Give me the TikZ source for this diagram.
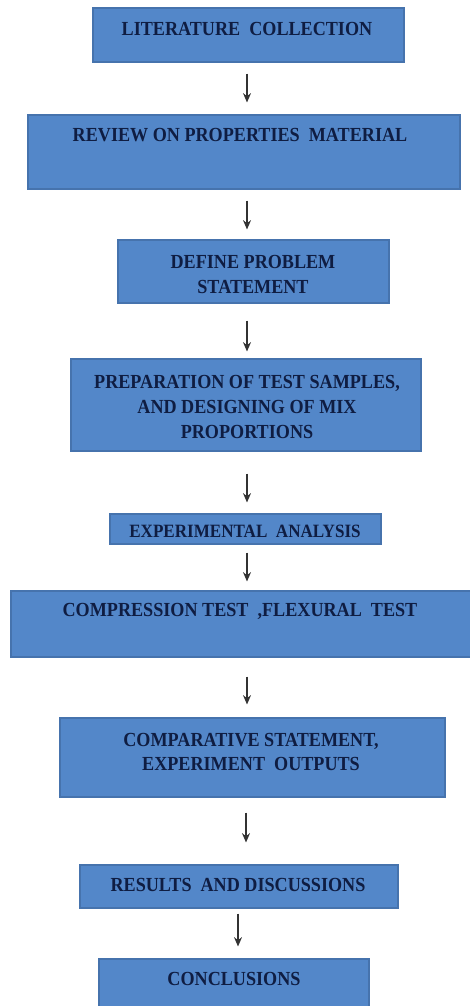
\documentclass[tikz,border=0pt]{standalone}
\usepackage{fontspec}
\setmainfont{Liberation Serif}
\usetikzlibrary{arrows.meta}
\definecolor{boxfill}{HTML}{5387C9}
\definecolor{boxline}{HTML}{4673AD}
\definecolor{txt}{HTML}{0F1D42}
\definecolor{arrc}{HTML}{333333}
\tikzset{
  stepbox/.style={draw=boxline, line width=0.8pt, fill=boxfill, inner sep=0pt},
  steptext/.style={text=txt, font=\fontsize{13.6pt}{17pt}\selectfont\bfseries, align=center, inner sep=0pt, yscale=1.1},
  flowarrow/.style={draw=arrc, line width=0.8pt, -{Stealth[length=7pt,width=6pt]}}
}
\begin{document}
\begin{tikzpicture}[x=0.75pt,y=-0.75pt]
\useasboundingbox (0,0) rectangle (470,1006);
% boxes
\node[stepbox, minimum width=311*0.75pt, minimum height=54*0.75pt] (b1) at (248.5,35) {};
\node[stepbox, minimum width=432*0.75pt, minimum height=74*0.75pt] (b2) at (244,152) {};
\node[stepbox, minimum width=271*0.75pt, minimum height=63*0.75pt] (b3) at (253.5,271.5) {};
\node[stepbox, minimum width=350*0.75pt, minimum height=92*0.75pt] (b4) at (246,405) {};
\node[stepbox, minimum width=271*0.75pt, minimum height=30*0.75pt] (b5) at (245.5,529) {};
\node[stepbox, minimum width=461*0.75pt, minimum height=66*0.75pt] (b6) at (241.5,624) {};
\node[stepbox, minimum width=385*0.75pt, minimum height=79*0.75pt] (b7) at (252.5,757.5) {};
\node[stepbox, minimum width=318*0.75pt, minimum height=43*0.75pt] (b8) at (239,886.5) {};
\node[stepbox, minimum width=270*0.75pt, minimum height=56*0.75pt] (b9) at (234,987) {};
% texts
\node[steptext] (t1) at (247,29) {LITERATURE\ \ COLLECTION};
\node[steptext] (t2) at (240,135) {REVIEW ON PROPERTIES\ \ MATERIAL};
\node[steptext] (t3) at (253,274.5) {DEFINE PROBLEM\\STATEMENT};
\node[steptext] (t4) at (247,407) {PREPARATION OF TEST SAMPLES,\\AND DESIGNING OF MIX\\PROPORTIONS};
\node[steptext, font=\fontsize{12.8pt}{16pt}\selectfont\bfseries] (t5) at (245,531) {EXPERIMENTAL\ \ ANALYSIS};
\node[steptext] (t6) at (240,611) {COMPRESSION TEST\ \ ,FLEXURAL\ \ TEST};
\node[steptext] (t7) at (251,752) {COMPARATIVE STATEMENT,\\EXPERIMENT\ \ OUTPUTS};
\node[steptext] (t8) at (238,885) {RESULTS\ \ AND DISCUSSIONS};
\node[steptext] (t9) at (234,979) {CONCLUSIONS};
% arrows
\coordinate (ax) at (247,0);
\coordinate (ay) at (246,0);
\coordinate (az) at (238,0);
\draw[flowarrow, shorten <=11*0.75pt, shorten >=12*0.75pt] (b1.south -| ax) -- (b2.north -| ax);
\draw[flowarrow, shorten <=11*0.75pt, shorten >=10*0.75pt] (b2.south -| ax) -- (b3.north -| ax);
\draw[flowarrow, shorten <=17*0.75pt, shorten >=7*0.75pt] (b3.south -| ax) -- (b4.north -| ax);
\draw[flowarrow, shorten <=22*0.75pt, shorten >=11*0.75pt] (b4.south -| ax) -- (b5.north -| ax);
\draw[flowarrow, shorten <=8*0.75pt, shorten >=9*0.75pt] (b5.south -| ax) -- (b6.north -| ax);
\draw[flowarrow, shorten <=19*0.75pt, shorten >=13*0.75pt] (b6.south -| ax) -- (b7.north -| ax);
\draw[flowarrow, shorten <=15*0.75pt, shorten >=22*0.75pt] (b7.south -| ay) -- (b8.north -| ay);
\draw[flowarrow, shorten <=5*0.75pt, shorten >=12*0.75pt] (b8.south -| az) -- (b9.north -| az);
\end{tikzpicture}
\end{document}
